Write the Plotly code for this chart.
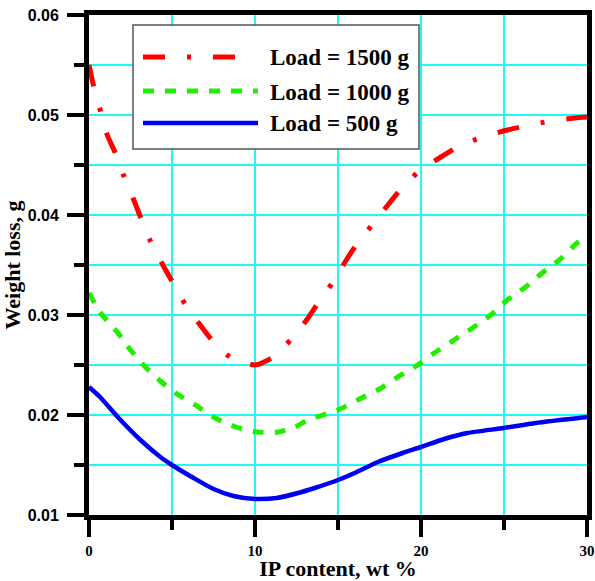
import plotly.graph_objects as go

# ---- data ----
x_1500 = [0, 0.25, 0.66, 1.1, 1.56, 2.1, 2.7, 3.1, 3.7, 4.45, 5.06, 5.78, 6.7, 7.4, 8.5, 10, 11,
          12.2, 13.2, 13.8, 14.7, 15.5, 16.1, 17.1, 18.1, 18.8, 19.9, 21.3, 22.2, 23.7, 25.2,
          26.3, 27.8, 29.3, 30]
y_1500 = [0.055, 0.0531, 0.0506, 0.048, 0.0463, 0.0439, 0.0415, 0.0398, 0.0374, 0.035, 0.0332,
          0.0311, 0.029, 0.0275, 0.0258, 0.025, 0.0257, 0.0276, 0.0297, 0.0312, 0.0333, 0.0355,
          0.037, 0.0391, 0.0412, 0.0426, 0.0444, 0.0459, 0.0468, 0.0478, 0.0485, 0.0489,
          0.0494, 0.0497, 0.0498]

x_1000 = [0, 0.7, 1.75, 2.5, 3.4, 4.3, 5.3, 6.4, 7.6, 8.85, 10.1, 11.4, 12.4, 13.2, 15, 16.3,
          17.5, 18.6, 19.8, 20.8, 21.9, 23.1, 24.2, 25.2, 26.3, 27.3, 28.4, 29.4, 30]
y_1000 = [0.0322, 0.0302, 0.0282, 0.0265, 0.0248, 0.0234, 0.0221, 0.021, 0.0197, 0.0188,
          0.0183, 0.0183, 0.0188, 0.0195, 0.0205, 0.0216, 0.0226, 0.0238, 0.025, 0.0262,
          0.0274, 0.0287, 0.03, 0.0315, 0.0328, 0.0342, 0.0356, 0.0372, 0.0378]

x_500 = [0, 0.66, 1.9, 3.1, 4.3, 5, 6.3, 7.5, 8.7, 10, 11.3, 12.6, 13.6, 15, 16, 17.4, 18.9,
         20, 21.4, 22.8, 25, 26.9, 30]
y_500 = [0.0228, 0.0218, 0.0195, 0.0175, 0.0158, 0.015, 0.0137, 0.0126, 0.0119, 0.0116,
         0.0117, 0.0122, 0.0127, 0.0135, 0.0142, 0.0153, 0.0162, 0.0168, 0.0176, 0.0182,
         0.0187, 0.0192, 0.0198]

series_names = ["Load = 1500 g", "Load = 1000 g", "Load = 500 g"]
x_range = [0, 30]
y_range = [0.01, 0.06]

# ---- styles ----
RED, GREEN, BLUE = "#FF0000", "#22EE00", "#0000F0"
GRID = "#22F8F8"
styles = [
    dict(color=RED, width=5, dash="22px,22px,4px,22px"),
    dict(color=GREEN, width=5, dash="11px,11px"),
    dict(color=BLUE, width=4.5, dash="solid"),
]

fig = go.Figure()
for xs, ys, name, st in zip([x_1500, x_1000, x_500], [y_1500, y_1000, y_500], series_names, styles):
    fig.add_trace(go.Scatter(x=xs, y=ys, mode="lines", name=name, showlegend=False,
                             hoverinfo="skip",
                             line=dict(shape="spline", smoothing=0.6, **st)))

serif = "Liberation Serif, Times New Roman, serif"
sans = "Liberation Sans, Arial, sans-serif"

fig.update_layout(
    width=595, height=581,
    margin=dict(l=89, r=8, t=15, b=66),
    paper_bgcolor="white", plot_bgcolor="white",
    xaxis=dict(
        range=x_range, tick0=0, dtick=10,
        automargin=False,
        showgrid=True, gridcolor=GRID, gridwidth=1.5,
        showline=True, linecolor="black", linewidth=5, mirror=True,
        ticks="outside", ticklen=17, tickwidth=4, tickcolor="black",
        tickfont=dict(family=serif, size=15, color="black", weight="bold"),
        ticklabelstandoff=1,
        minor=dict(tick0=0, dtick=5, ticks="outside", ticklen=10, tickwidth=4, tickcolor="black",
                   showgrid=True, gridcolor=GRID, gridwidth=1.5),
        zeroline=False,
        title=dict(text="<b>IP content, wt %</b>", standoff=4,
                   font=dict(family=serif, size=22, color="black")),
    ),
    yaxis=dict(
        range=y_range, tick0=0.01, dtick=0.01, tickformat=".2f",
        automargin=False,
        showgrid=True, gridcolor=GRID, gridwidth=1.5,
        showline=True, linecolor="black", linewidth=5, mirror=True,
        ticks="outside", ticklen=17, tickwidth=4, tickcolor="black",
        tickfont=dict(family=sans, size=16, color="black", weight="bold"),
        ticklabelstandoff=5,
        minor=dict(tick0=0.01, dtick=0.005, ticks="outside", ticklen=10, tickwidth=4,
                   tickcolor="black", showgrid=True, gridcolor=GRID, gridwidth=1.5),
        zeroline=False,
        title=dict(text="<b>Weight loss, g</b>", standoff=6,
                   font=dict(family=serif, size=22, color="black")),
    ),
)

# ---- custom legend (box, samples, labels) in paper coordinates ----
def px_x(p):
    return (p - 89) / 498.0

def px_y(p):
    return (515 - p) / 500.0

fig.add_shape(type="rect", xref="paper", yref="paper",
              x0=px_x(133), x1=px_x(419), y0=px_y(149), y1=px_y(25),
              fillcolor="white", line=dict(color="#555555", width=1.5), layer="above")
rows = [57, 91, 123]
sample_ends = [236, 258, 258]
for row, end, st, name in zip(rows, sample_ends, styles, series_names):
    fig.add_shape(type="line", xref="paper", yref="paper",
                  x0=px_x(143), x1=px_x(end), y0=px_y(row), y1=px_y(row),
                  line=dict(color=st["color"], width=st["width"], dash=st["dash"]), layer="above")
    fig.add_annotation(xref="paper", yref="paper", x=px_x(268), y=px_y(row + 1),
                       xanchor="left", yanchor="middle", showarrow=False,
                       text=f"<b>{name}</b>",
                       font=dict(family=serif, size=23, color="black"))

# remove the browser's default 8px body margin so the figure sits at the window origin
fig.write_html("out.html",
               config={"displayModeBar": False, "staticPlot": True},
               post_script="document.body.style.margin='0';document.body.style.overflow='hidden';")
